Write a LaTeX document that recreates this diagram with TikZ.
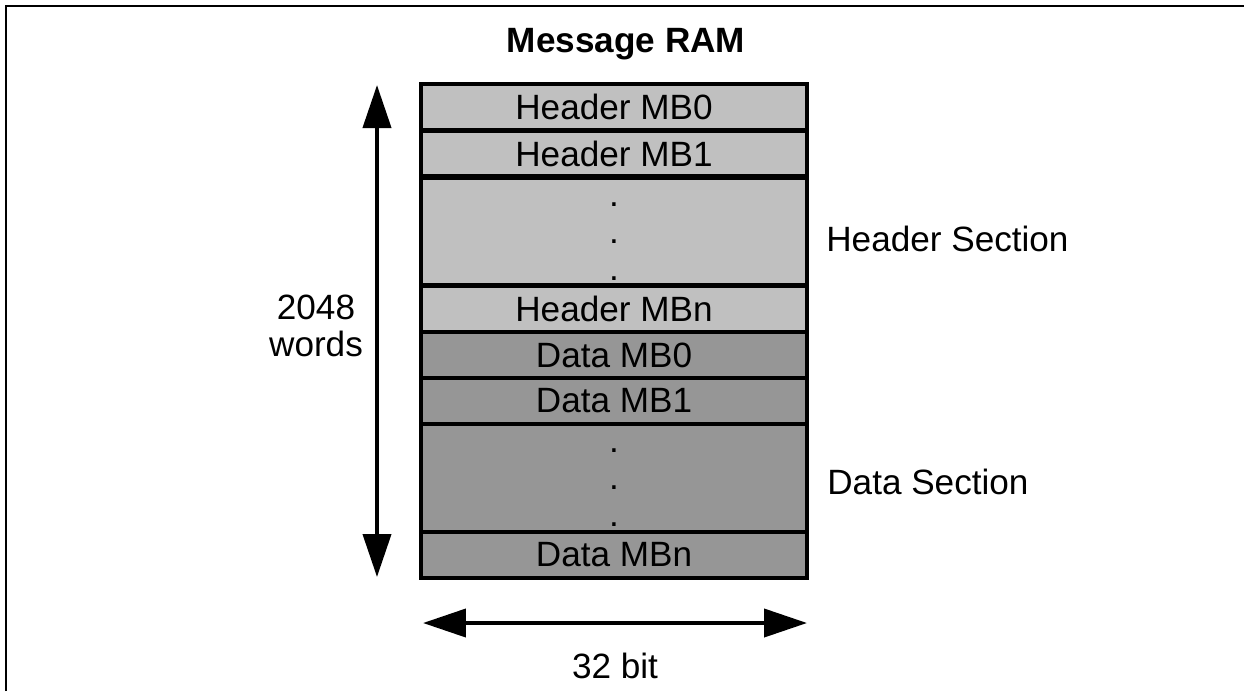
\documentclass[tikz,border=0pt]{standalone}
\usepackage{fontspec}
\setmainfont{Liberation Sans}
\usetikzlibrary{arrows.meta, positioning}
\definecolor{HeadGray}{HTML}{C0C0C0}
\definecolor{DataGray}{HTML}{969696}

\begin{document}
\begin{tikzpicture}[
    x=0.02cm, y=-0.02cm,
    cell/.style={minimum width=7.72cm, minimum height=0.92cm, inner sep=0pt, outer sep=0pt, draw=black, line width=2.3pt, font=\fontsize{20}{21}\selectfont},
    hcell/.style={cell, fill=HeadGray},
    dcell/.style={cell, fill=DataGray},
    gapcell/.style={minimum height=2.16cm},
    dotcol/.style={align=center, inner sep=0pt, font=\fontsize{20}{21}\selectfont},
    lbl/.style={inner sep=0pt, font=\fontsize{20}{21}\selectfont},
    dimarr/.style={{Triangle[length=0.86cm, width=0.56cm]}-{Triangle[length=0.86cm, width=0.56cm]}, line width=2.3pt}
]
\useasboundingbox (0,0) rectangle (1244,691);
% frame
\draw[line width=1.1pt] (6,691) -- (6,6) -- (1244,6);

% Header section
\node[hcell] (hmb0) at (614,107) {Header MB0};
\node[hcell] (hmb1) at (614,153.5) {Header MB1};
\node[hcell, gapcell] (hgap) at (614,231.5) {};
\node[dotcol] (hdots) at ([yshift=-0.2cm]hgap.center) {.\\.\\.};
\node[hcell] (hmbn) at (614,309) {Header MBn};
% Data section
\node[dcell] (dmb0) at (614,355) {Data MB0};
\node[dcell] (dmb1) at (614,401) {Data MB1};
\node[dcell, gapcell] (dgap) at (614,478) {};
\node[dotcol] (ddots) at ([yshift=-0.2cm]dgap.center) {.\\.\\.};
\node[dcell] (dmbn) at (614,555) {Data MBn};

% Labels
\node[lbl, font=\fontsize{20}{21}\selectfont\bfseries] (title) at (626,44) {Message RAM};
\node[lbl, align=center] (words) at (316,326) {2048\\words};
\node[lbl, anchor=west] (hsec) at (826,239) {Header Section};
\node[lbl, anchor=west] (dsec) at (827,482) {Data Section};
\node[lbl] (bits) at (615,666) {32 bit};

% Dimension arrows
\coordinate (vtop) at (377,85);
\coordinate (vbot) at (377,577);
\coordinate (hleft) at (423,623);
\coordinate (hright) at (807,623);
\draw[dimarr] (vbot) -- (vtop);
\draw[dimarr] (hleft) -- (hright);
\end{tikzpicture}
\end{document}
